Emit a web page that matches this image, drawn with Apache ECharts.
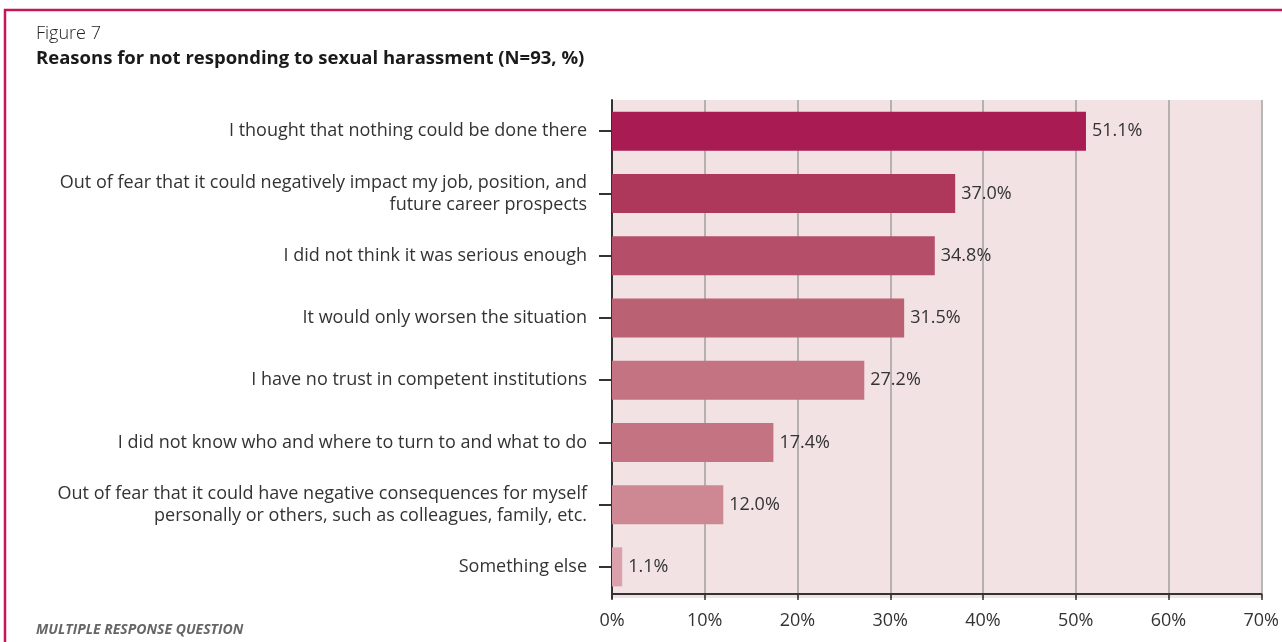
<!DOCTYPE html>
<html>
<head>
<meta charset="utf-8">
<title>Reasons for not responding to sexual harassment</title>
<script src="https://cdn.jsdelivr.net/npm/echarts@6/dist/echarts.min.js"></script>
<style>
  html, body { margin: 0; padding: 0; background: #ffffff; }
  #chart { width: 1282px; height: 642px; }
</style>
</head>
<body>
<div id="chart"></div>
<script>
// Survey answers, top to bottom
const categories = [
  'I thought that nothing could be done there',
  'Out of fear that it could negatively impact my job, position, and\nfuture career prospects',
  'I did not think it was serious enough',
  'It would only worsen the situation',
  'I have no trust in competent institutions',
  'I did not know who and where to turn to and what to do',
  'Out of fear that it could have negative consequences for myself\npersonally or others, such as colleagues, family, etc.',
  'Something else'
];
// Share of respondents (%)
const shares = [51.1, 37.0, 34.8, 31.5, 27.2, 17.4, 12.0, 1.1];
// Axis ticks (%)
const ticks = [0, 10, 20, 30, 40, 50, 60, 70];

const barColors = ['#a81b53', '#ae375c', '#b54e69', '#bb6174', '#c37382', '#c37382', '#cd8894', '#d9a1ab'];
const FONT = '"Open Sans", "Noto Sans", sans-serif';

const chart = echarts.init(document.getElementById('chart'), null, { renderer: 'canvas' });

chart.setOption({
  backgroundColor: '#ffffff',
  animation: false,
  grid: {
    left: 612, right: 20, top: 100, bottom: 44,
    show: true, backgroundColor: '#f2e2e4', borderWidth: 0
  },
  xAxis: {
    type: 'value',
    min: ticks[0],
    max: ticks[ticks.length - 1],
    interval: 10,
    offset: -4,
    axisLine: { show: true, lineStyle: { color: '#333333', width: 2 } },
    axisTick: { show: true, length: 6, lineStyle: { color: '#333333', width: 1.5 } },
    axisLabel: {
      formatter: '{value}%', color: '#333333', fontFamily: FONT, fontSize: 18, margin: 18
    },
    splitLine: { show: true, lineStyle: { color: '#a0a0a0', width: 1.5 } }
  },
  yAxis: {
    type: 'category',
    inverse: true,
    data: categories,
    axisLine: { show: true, lineStyle: { color: '#333333', width: 2 } },
    axisTick: { show: true, alignWithLabel: true, length: 13, lineStyle: { color: '#333333', width: 2 } },
    axisLabel: {
      color: '#333333', fontFamily: FONT, fontSize: 18, margin: 25,
      align: 'right', lineHeight: 22
    },
    splitLine: { show: false }
  },
  series: [{
    type: 'bar',
    barWidth: 39,
    data: shares.map((v, i) => ({ value: v, itemStyle: { color: barColors[i] } })),
    label: {
      show: true,
      position: 'right',
      distance: 6,
      formatter: (p) => p.value.toFixed(1) + '%',
      color: '#333333',
      fontFamily: FONT,
      fontSize: 18
    }
  }],
  graphic: [
    {
      type: 'rect',
      shape: { x: 5, y: 10, width: 1300, height: 660 },
      style: { fill: 'none', stroke: '#c2185b', lineWidth: 2.5 },
      silent: true
    },
    {
      type: 'text', left: 36, top: 25,
      style: { text: 'Figure 7', fill: '#222222', font: '300 18px ' + FONT }
    },
    {
      type: 'text', left: 36, top: 49,
      style: { text: 'Reasons for not responding to sexual harassment (N=93, %)', fill: '#1a1a1a', font: 'bold 18.5px ' + FONT }
    },
    {
      type: 'text', left: 36, top: 623,
      style: { text: 'MULTIPLE RESPONSE QUESTION', fill: '#666666', font: 'italic bold 14px ' + FONT }
    }
  ]
});
</script>
</body>
</html>
